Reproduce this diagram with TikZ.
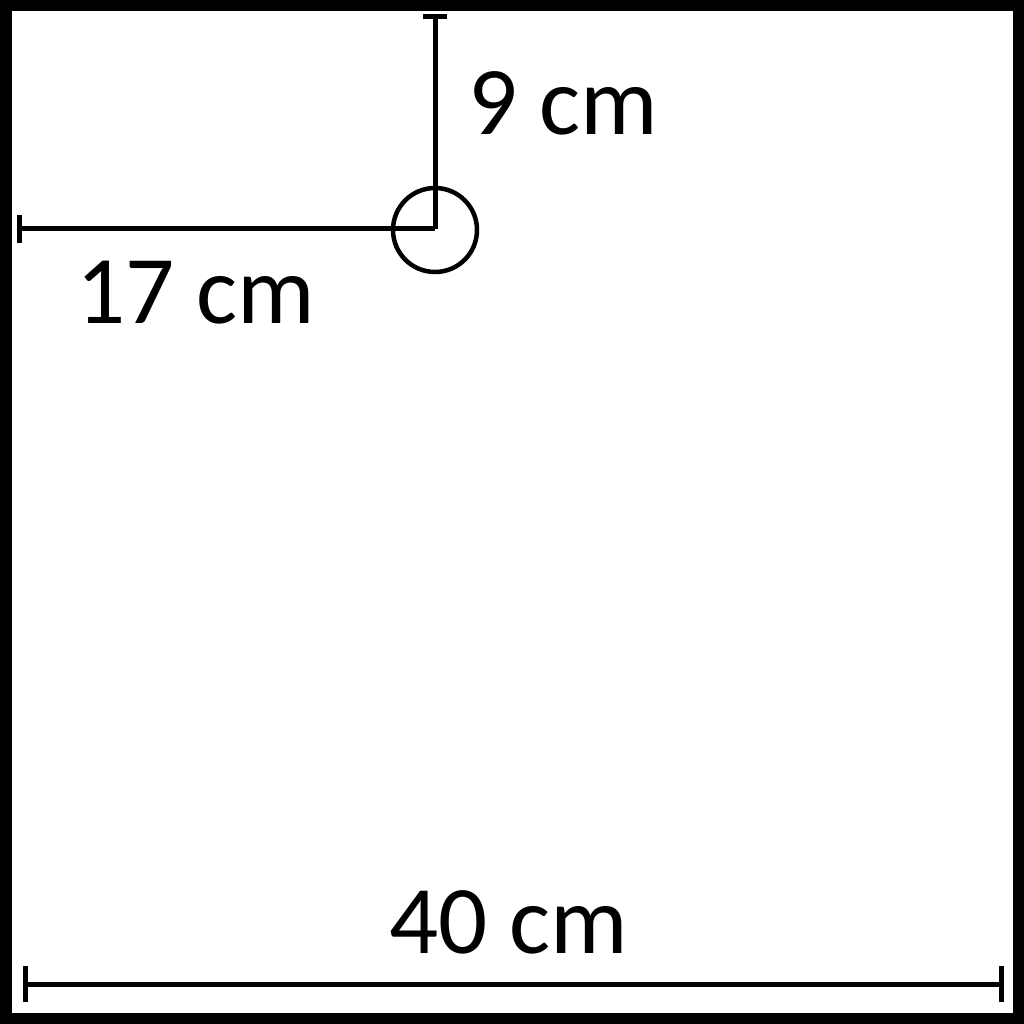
\documentclass[tikz,border=0pt]{standalone}
\usepackage{fontspec}
\setmainfont{Carlito}
\begin{document}
\begin{tikzpicture}[x=1pt,y=-1pt,
  dimline/.style={line width=5pt},
  lbl/.style={anchor=base west,inner sep=0pt,font=\fontsize{97}{97}\selectfont}]
\useasboundingbox (0,0) rectangle (1024,1024);
\draw[line width=11.5pt] (5.75,5.75) rectangle (1018.25,1018.25);
% pivot circle
\node[draw,circle,line width=4.5pt,minimum size=84pt,inner sep=0pt] (pivot) at (435,230) {};
\coordinate (c) at (435,229);
\coordinate (top) at (435,17);
\coordinate (left) at (19,229);
\coordinate (bl) at (25,984);
\coordinate (br) at (1001,984);
% vertical dimension
\draw[dimline] (c) -- (top);
\draw[dimline] ([xshift=-12pt]top) -- ([xshift=12pt]top);
% horizontal dimension
\draw[dimline] (c) -- (left);
\draw[dimline] ([yshift=-14pt]left) -- ([yshift=14pt]left);
% bottom dimension
\draw[dimline] (bl) -- (br);
\draw[dimline] ([yshift=-18pt]bl) -- ([yshift=18pt]bl);
\draw[dimline] ([yshift=-18pt]br) -- ([yshift=18pt]br);
% labels
\node[lbl] (l9) at (468,135) {9 cm};
\node[lbl] (l17) at (76,323) {17 cm};
\node[lbl] (l40) at (389,953) {40 cm};
\end{tikzpicture}
\end{document}
